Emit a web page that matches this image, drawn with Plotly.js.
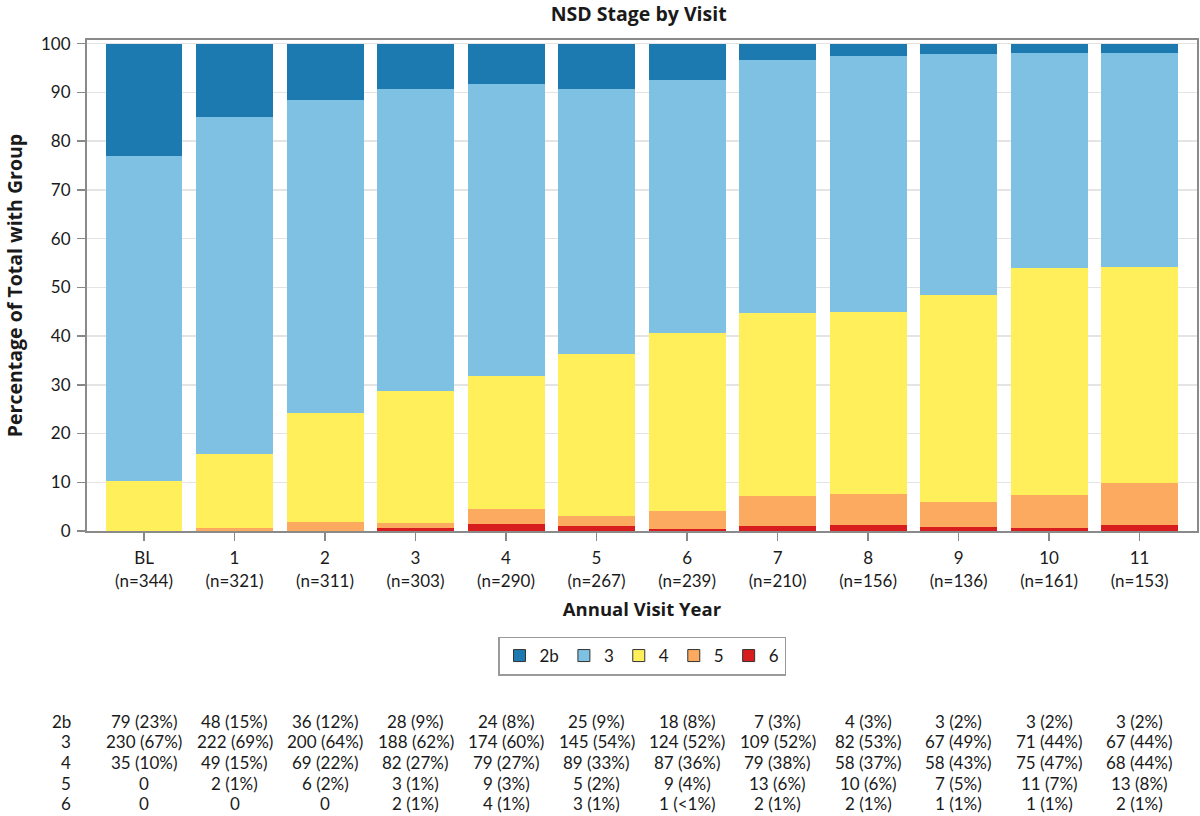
<!DOCTYPE html>
<html>
<head>
<meta charset="utf-8">
<script src="https://cdn.plot.ly/plotly-3.0.1.min.js"></script>
<style>
  html, body { margin: 0; padding: 0; background: #ffffff; }
  #chart { width: 1200px; height: 816px; }
</style>
</head>
<body>
<div id="chart"></div>
<script>
// Annual visits and number of participants seen at each visit
const visits = ['BL', '1', '2', '3', '4', '5', '6', '7', '8', '9', '10', '11'];
const nTotal = [344, 321, 311, 303, 290, 267, 239, 210, 156, 136, 161, 153];

// Participant counts by NSD stage at each visit
const stageNames = ['2b', '3', '4', '5', '6'];
const stage2b = [79, 48, 36, 28, 24, 25, 18, 7, 4, 3, 3, 3];
const stage3 = [230, 222, 200, 188, 174, 145, 124, 109, 82, 67, 71, 67];
const stage4 = [35, 49, 69, 82, 79, 89, 87, 79, 58, 58, 75, 68];
const stage5 = [0, 2, 6, 3, 9, 5, 9, 13, 10, 7, 11, 13];
const stage6 = [0, 0, 0, 2, 4, 3, 1, 2, 2, 1, 1, 2];

const stageColors = {
  '2b': '#1d7ab0',
  '3': '#7fc1e3',
  '4': '#fff05b',
  '5': '#fbaa5f',
  '6': '#d81d1e'
};

const countsByStage = {'2b': stage2b, '3': stage3, '4': stage4, '5': stage5, '6': stage6};

const FONT = 'Lato, "Open Sans", sans-serif';
const TITLE_FONT = '"Open Sans", "Noto Sans", sans-serif';
const TEXT = '#1a1a1a';

// Plot area geometry (pixels)
const W = 1200, H = 816;
const mL = 87, mR = 3, mT = 40, mB = 285;
const plotH = H - mT - mB;
const plotW = W - mL - mR;
const paperY = py => (H - mB - py) / plotH;
const paperX = px => (px - mL) / plotW;

const tickText = visits.map((v, i) => v + '<br>(n=' + nTotal[i] + ')');

function pct(count, n) { return count / n * 100; }
function cellText(count, n) {
  if (count === 0) return '0';
  const p = pct(count, n);
  return count + ' (' + (p < 0.5 ? '&lt;1' : Math.round(p)) + '%)';
}

const traces = [];

// Stacked bars: stage 6 at the bottom, 2b on top
['6', '5', '4', '3', '2b'].forEach(s => {
  traces.push({
    type: 'bar',
    name: s,
    x: visits,
    y: countsByStage[s].map((c, i) => pct(c, nTotal[i])),
    marker: {color: stageColors[s], line: {width: 0}},
    width: 0.85,
    showlegend: false
  });
});

// Legend swatches with a dark outline; these copies sit on a hidden overlay axis
stageNames.forEach(s => {
  traces.push({
    type: 'bar',
    name: s,
    x: visits,
    y: countsByStage[s].map((c, i) => pct(c, nTotal[i])),
    xaxis: 'x2',
    yaxis: 'y2',
    marker: {color: stageColors[s], line: {color: '#333333', width: 1}},
    showlegend: true
  });
});

// Count table below the legend
const annotations = [];
const rowY = [721, 741.7, 762.4, 783.1, 803.8];
const cellFont = {family: FONT, size: 17, color: TEXT};
stageNames.forEach((s, r) => {
  annotations.push({
    xref: 'paper', yref: 'paper',
    x: paperX(72), y: paperY(rowY[r]),
    xanchor: 'right', yanchor: 'middle',
    text: s, showarrow: false, borderpad: 0,
    font: cellFont
  });
  countsByStage[s].forEach((c, i) => {
    annotations.push({
      xref: 'x', yref: 'paper',
      x: i, y: paperY(rowY[r]),
      xanchor: 'center', yanchor: 'middle',
      text: cellText(c, nTotal[i]), showarrow: false, borderpad: 0,
      font: cellFont
    });
  });
});

const layout = {
  width: W, height: H,
  margin: {l: mL, r: mR, t: mT, b: mB, pad: 0},
  paper_bgcolor: '#ffffff',
  plot_bgcolor: '#ffffff',
  font: {family: FONT, size: 16, color: TEXT},
  barmode: 'stack',
  bargap: 0.15,
  title: {
    text: '<b>NSD Stage by Visit</b>',
    font: {family: TITLE_FONT, size: 19.5, color: TEXT},
    x: 0.497, xref: 'paper', xanchor: 'center',
    y: 1 - 14.5 / H, yref: 'container', yanchor: 'middle'
  },
  xaxis: {
    type: 'category',
    range: [-0.63, 11.634],
    tickmode: 'array',
    tickvals: visits,
    ticktext: tickText,
    ticks: 'outside', ticklen: 8, tickwidth: 1.5, tickcolor: '#888888',
    ticklabelstandoff: 3,
    tickfont: {family: FONT, size: 17, color: TEXT},
    showline: true, linecolor: '#8a8a8a', linewidth: 2, mirror: true,
    showgrid: false, zeroline: false,
    automargin: false,
    title: {
      text: '<b>Annual Visit Year</b>',
      font: {family: TITLE_FONT, size: 18.5, color: TEXT},
      standoff: 14
    }
  },
  xaxis2: {
    type: 'category',
    overlaying: 'x',
    range: [-0.63, 11.634],
    visible: false
  },
  yaxis: {
    range: [0, 100.76],
    tickmode: 'array',
    tickvals: [0, 10, 20, 30, 40, 50, 60, 70, 80, 90, 100],
    ticks: 'outside', ticklen: 8, tickwidth: 1.5, tickcolor: '#888888',
    ticklabelstandoff: 3,
    tickfont: {family: FONT, size: 17, color: TEXT},
    showline: true, linecolor: '#8a8a8a', linewidth: 2, mirror: true,
    showgrid: true, gridcolor: '#e4e4e4', gridwidth: 1.5,
    zeroline: false,
    automargin: false,
    title: {
      text: '<b>Percentage of Total with Group</b>',
      font: {family: TITLE_FONT, size: 19.5, color: TEXT},
      standoff: 13
    }
  },
  yaxis2: {
    overlaying: 'y',
    range: [-2, -1],
    visible: false
  },
  legend: {
    orientation: 'h',
    x: 0.5, xanchor: 'center',
    y: paperY(656), yanchor: 'middle',
    bordercolor: '#9a9a9a', borderwidth: 1.5,
    bgcolor: '#ffffff',
    font: {family: FONT, size: 17, color: TEXT},
    traceorder: 'normal'
  },
  annotations: annotations
};

Plotly.newPlot('chart', traces, layout, {displayModeBar: false, staticPlot: true});
</script>
</body>
</html>
